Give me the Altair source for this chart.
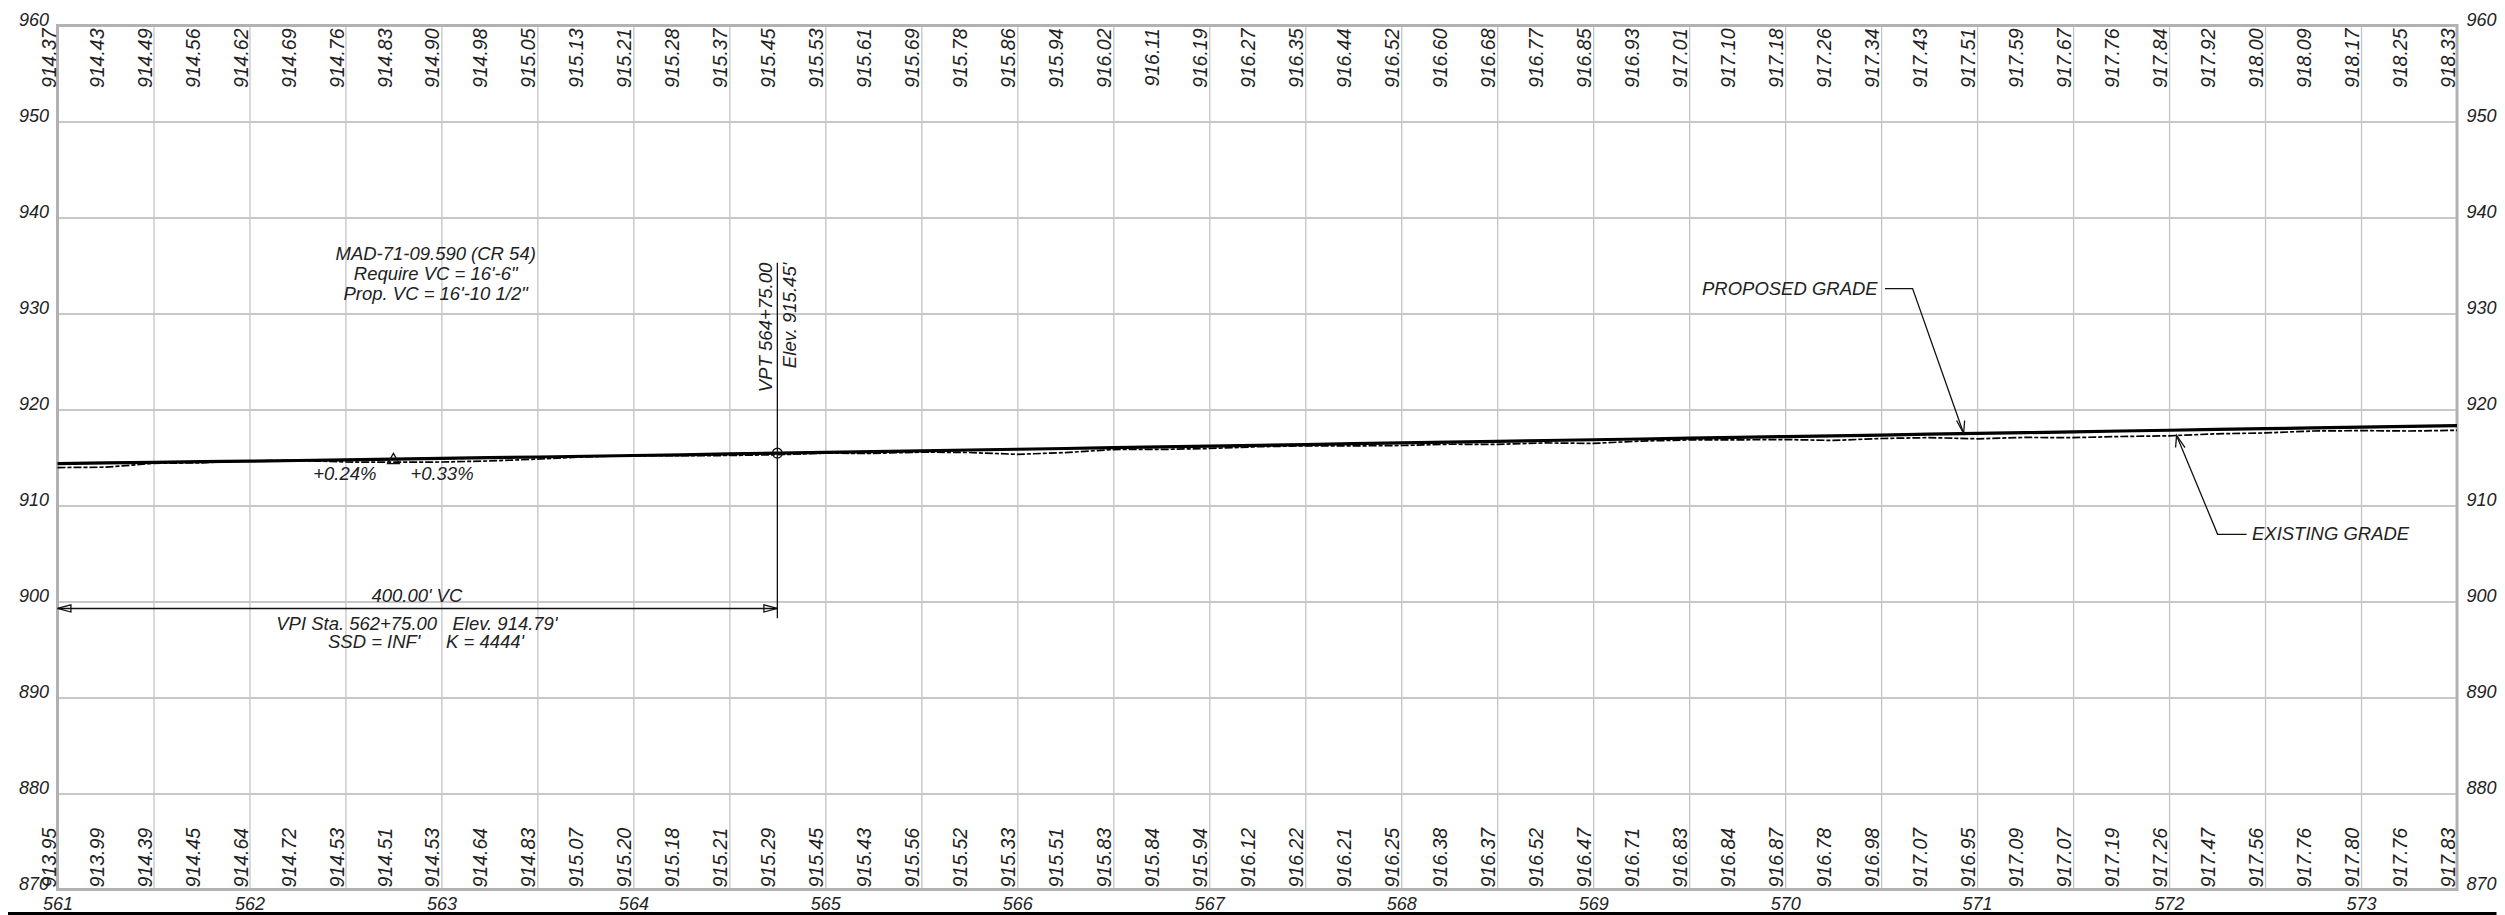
import altair as alt
import pandas as pd

FONT = "Liberation Sans"

stations = [561 + i * 0.25 for i in range(51)]
proposed = [
    914.37, 914.43, 914.49, 914.56, 914.62, 914.69, 914.76, 914.83, 914.90, 914.98, 915.05,
    915.13, 915.21, 915.28, 915.37, 915.45, 915.53, 915.61, 915.69, 915.78, 915.86, 915.94,
    916.02, 916.11, 916.19, 916.27, 916.35, 916.44, 916.52, 916.60, 916.68, 916.77, 916.85,
    916.93, 917.01, 917.10, 917.18, 917.26, 917.34, 917.43, 917.51, 917.59, 917.67, 917.76,
    917.84, 917.92, 918.00, 918.09, 918.17, 918.25, 918.33,
]
existing = [
    913.95, 913.99, 914.39, 914.45, 914.64, 914.72, 914.53, 914.51, 914.53, 914.64, 914.83,
    915.07, 915.20, 915.18, 915.21, 915.29, 915.45, 915.43, 915.56, 915.52, 915.33, 915.51,
    915.83, 915.84, 915.94, 916.12, 916.22, 916.21, 916.25, 916.38, 916.37, 916.52, 916.47,
    916.71, 916.83, 916.84, 916.87, 916.78, 916.98, 917.07, 916.95, 917.09, 917.07, 917.19,
    917.26, 917.47, 917.56, 917.76, 917.80, 917.76, 917.83,
]
x_ticks = [561 + i * 0.5 for i in range(26)]
y_ticks = list(range(870, 970, 10))

# annotation text: station, elevation, text, align
notes = [
    (562.97, 936.25, "MAD-71-09.590 (CR 54)", "center"),
    (562.97, 934.17, "Require VC = 16'-6\"", "center"),
    (562.97, 932.08, "Prop. VC = 16'-10 1/2\"", "center"),
    (562.497, 913.23, "+0.24%", "center"),
    (563.003, 913.33, "+0.33%", "center"),
    (562.872, 900.6, "400.00' VC", "center"),
    (562.872, 897.7, "VPI Sta. 562+75.00\u00a0\u00a0\u00a0Elev. 914.79'", "center"),
    (562.92, 895.76, "SSD = INF'\u00a0\u00a0\u00a0\u00a0\u00a0K = 4444'", "center"),
    (570.482, 932.6, "PROPOSED GRADE", "right"),
    (572.432, 907.0, "EXISTING GRADE", "left"),
]
upright_notes = pd.DataFrame(notes, columns=["st", "el", "text", "align"])
vertical_notes = pd.DataFrame({
    "st": [564.69, 564.815],
    "el": [935.3, 935.3],
    "text": ["VPT 564+75.00", "Elev. 915.45'"],
})

# leader and dimension polylines, in station / elevation
polylines = {
    "vpt": [(564.75, 935.3), (564.75, 898.25)],
    "dim": [(561.0, 899.27), (564.75, 899.27)],
    "dim_l": [(561.0, 899.27), (561.07, 899.65), (561.07, 898.9), (561.0, 899.27)],
    "dim_r": [(564.75, 899.27), (564.68, 899.65), (564.68, 898.9), (564.75, 899.27)],
    "prop": [(570.52, 932.6), (570.664, 932.6), (570.93, 917.5)],
    "prop_a": [(570.893, 918.85), (570.93, 917.5), (570.935, 918.85)],
    "exis": [(572.404, 907.0), (572.253, 907.0), (572.039, 917.3)],
    "exis_a": [(572.034, 916.04), (572.039, 917.3), (572.083, 916.04)],
}
poly_rows = [
    {"id": k, "o": i, "st": p[0], "el": p[1]}
    for k, pts in polylines.items()
    for i, p in enumerate(pts)
]
poly_df = pd.DataFrame(poly_rows)

grade = pd.DataFrame({"st": stations, "proposed": proposed, "existing": existing})
grade["prop_label"] = [f"{v:.2f}" for v in proposed]
grade["exis_label"] = [f"{v:.2f}" for v in existing]
grade["st_text"] = grade["st"] - 0.01
grade["top"] = 959.7
grade["bottom"] = 870.2

xs = alt.Scale(domain=[561, 573.5], nice=False, zero=False)
ys = alt.Scale(domain=[870, 960], nice=False, zero=False)
X = alt.X("st:Q", scale=xs, title=None)
Y = alt.Y("el:Q", scale=ys, title=None)

axis_common = dict(
    values=y_ticks, title=None, ticks=False, domain=False, format="d",
    labelFont=FONT, labelFontStyle="italic", labelFontSize=18, labelColor="#222222",
    labelBaseline="alphabetic", labelPadding=9,
)

base_x = alt.X(
    "st:Q", scale=xs, title=None,
    axis=alt.Axis(
        values=x_ticks, grid=True, gridColor="#c4c4c4", gridWidth=1.3, ticks=False, domain=False,
        labelExpr="datum.value % 1 === 0 ? format(datum.value, 'd') : ''",
        labelFont=FONT, labelFontStyle="italic", labelFontSize=18, labelColor="#222222",
        labelPadding=6, labelFlush=False, labelOverlap=False, labelBound=False,
    ),
)
left_y = alt.Y(
    "el:Q", scale=ys, title=None,
    axis=alt.Axis(orient="left", grid=True, gridColor="#c8c8c8", gridWidth=2, **axis_common),
)
right_y = alt.Y(
    "el:Q", scale=ys, title=None,
    axis=alt.Axis(orient="right", grid=False, **axis_common),
)

frame_df = pd.DataFrame({"st": [561], "st2": [573.5], "el": [870], "el2": [960]})
frame = alt.Chart(frame_df).mark_rect(filled=False, stroke="#b2b2b2", strokeWidth=3).encode(
    x=base_x, x2="st2:Q", y=left_y, y2="el2:Q"
)

exist_line = alt.Chart(grade).mark_line(
    color="#000000", strokeWidth=1.7, strokeDash=[8, 2, 4, 2]
).encode(x=alt.X("st:Q", scale=xs, title=None), y=alt.Y("existing:Q", scale=ys, title=None))
prop_line = alt.Chart(grade).mark_line(color="#000000", strokeWidth=3.2).encode(
    x=alt.X("st:Q", scale=xs, title=None), y=alt.Y("proposed:Q", scale=ys, title=None)
)

rot = dict(font=FONT, fontStyle="italic", fontSize=19.5, color="#222222", angle=270, baseline="alphabetic")
top_labels = alt.Chart(grade).mark_text(align="right", **rot).encode(
    x=alt.X("st_text:Q", scale=xs, title=None), y=alt.Y("top:Q", scale=ys, title=None), text="prop_label:N"
)
bottom_labels = alt.Chart(grade).mark_text(align="left", **rot).encode(
    x=alt.X("st_text:Q", scale=xs, title=None), y=alt.Y("bottom:Q", scale=ys, title=None), text="exis_label:N"
)

polys = alt.Chart(poly_df).mark_line(color="#111111", strokeWidth=1.3).encode(
    x=X, y=Y, detail="id:N", order="o:Q"
)

note_layers = [
    alt.Chart(upright_notes[upright_notes["align"] == a]).mark_text(
        font=FONT, fontStyle="italic", fontSize=18.5, color="#222222", align=a, baseline="middle"
    ).encode(x=X, y=Y, text="text:N")
    for a in ["center", "left", "right"]
]
vert = alt.Chart(vertical_notes).mark_text(
    font=FONT, fontStyle="italic", fontSize=18.6, color="#222222", angle=270, align="right", baseline="middle"
).encode(x=X, y=Y, text="text:N")

vpt_pt = alt.Chart(pd.DataFrame({"st": [564.75], "el": [915.45]})).mark_point(
    shape="circle", size=95, color="#111111", opacity=1, strokeWidth=1.4, filled=False
).encode(x=X, y=Y)
vpi_pt = alt.Chart(pd.DataFrame({"st": [562.75], "el": [914.9]})).mark_point(
    shape="triangle-up", size=140, color="#111111", opacity=1, strokeWidth=1.3, filled=False
).encode(x=X, y=Y)

edge_bar = alt.Chart(frame_df).mark_rule(color="#000000", strokeWidth=3).encode(
    x=alt.value(-49.5), x2=alt.value(2439.5), y=alt.value(888)
)

left_layer = alt.layer(
    frame, exist_line, prop_line, top_labels, bottom_labels, polys, *note_layers, vert, vpt_pt, vpi_pt, edge_bar
)
right_layer = alt.Chart(frame_df).mark_point(opacity=0).encode(y=right_y)

chart = (
    alt.layer(left_layer, right_layer)
    .resolve_scale(y="independent")
    .properties(
        width=2400, height=864,
        padding={"left": 49.5, "top": 17.5, "right": 40, "bottom": 25.5},
        autosize=alt.AutoSizeParams(type="none"),
        background="white",
    )
    .configure_view(stroke=None)
)
chart.save("out.html", embed_options={"renderer": "svg", "actions": False})
